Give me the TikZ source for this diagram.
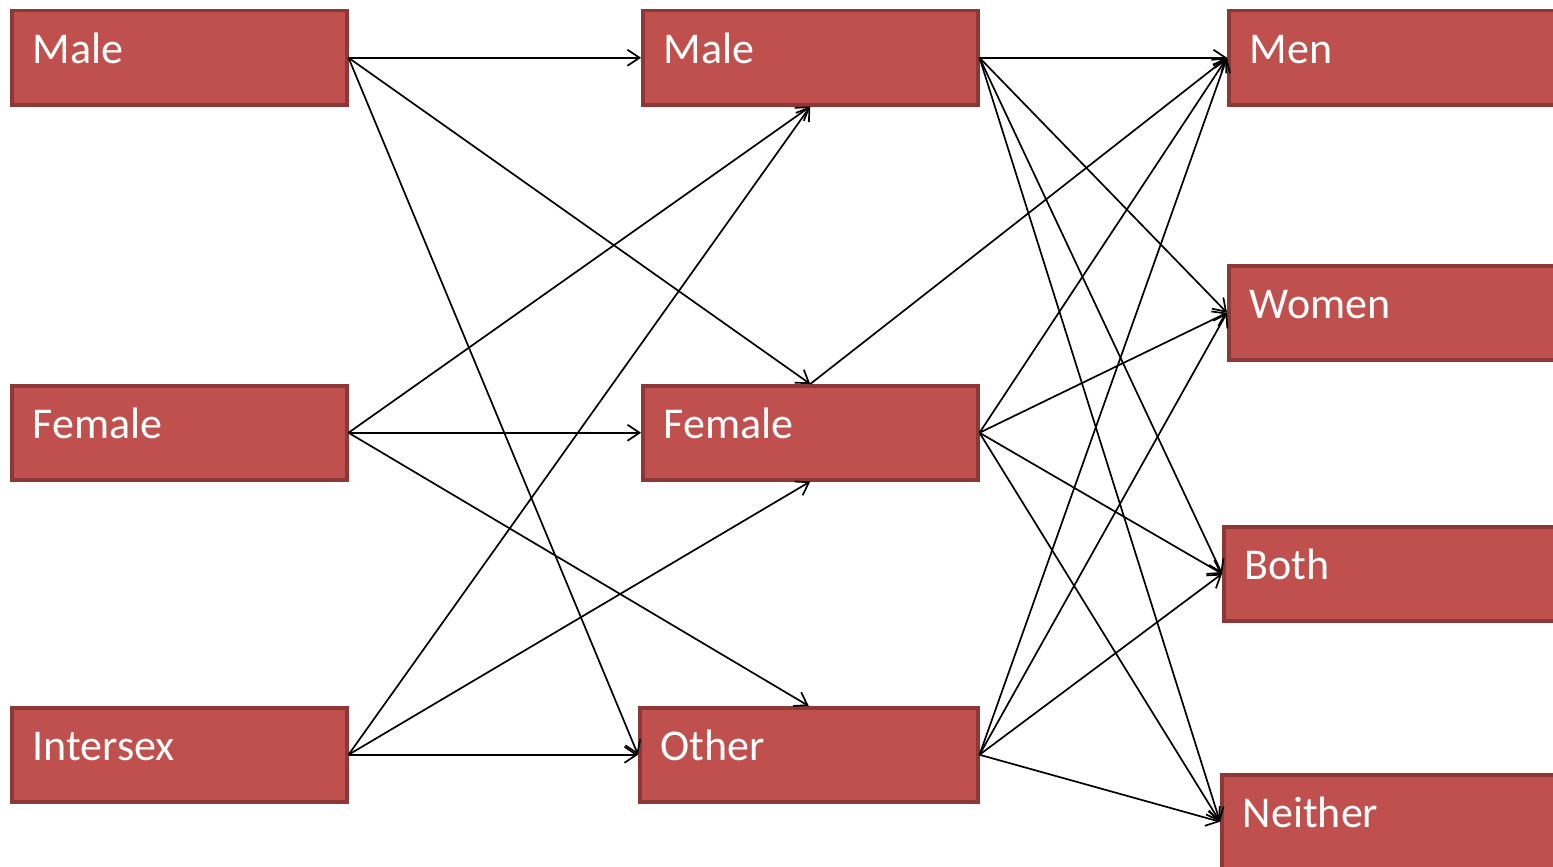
\documentclass[tikz,border=0pt]{standalone}
\usepackage{fontspec}
\setmainfont{Carlito}
\usetikzlibrary{arrows.meta}
\definecolor{boxfill}{HTML}{C0504D}
\definecolor{boxline}{HTML}{8C3836}
\tikzset{
  gbox/.style={draw=boxline, line width=3.5pt, fill=boxfill, anchor=north west,
    minimum width=#1, minimum height=94pt, inner xsep=21pt, inner ysep=0pt,
    text width=#1-42pt, align=left, text=white, font=\fontsize{44}{48}\selectfont,
    text height=31pt, text depth=19pt},
  gbox/.default=335pt,
  conn/.style={line width=1.7pt, -{Straight Barb[length=12pt,width=16pt,line width=1.7pt]}}
}
\begin{document}
\begin{tikzpicture}[x=1pt,y=-1pt]
\useasboundingbox (0,0) rectangle (1553,867);
% left column
\node[gbox] (lmale) at (10,9) {Male};
\node[gbox] (lfemale) at (10,384) {Female};
\node[gbox] (linter) at (10,706) {Intersex};
% middle column
\node[gbox] (mmale) at (641,9) {Male};
\node[gbox] (mfemale) at (641,384) {Female};
\node[gbox=338pt] (mother) at (638,706) {Other};
% right column
\node[gbox] (men) at (1227,9) {Men};
\node[gbox] (women) at (1227,264) {Women};
\node[gbox=340pt] (both) at (1222,525) {Both};
\node[gbox=345pt] (neither) at (1220,773) {Neither};
% left -> middle
\draw[conn] (lmale.east) -- (mmale.west);
\draw[conn] (lmale.east) -- (mfemale.north);
\draw[conn] (lmale.east) -- (mother.west);
\draw[conn] (lfemale.east) -- (mmale.south);
\draw[conn] (lfemale.east) -- (mfemale.west);
\draw[conn] (lfemale.east) -- (mother.north);
\draw[conn] (linter.east) -- (mmale.south);
\draw[conn] (linter.east) -- (mfemale.south);
\draw[conn] (linter.east) -- (mother.west);
% middle -> right
\foreach \s in {mmale,mfemale,mother}{
  \foreach \t in {men,women,both,neither}{
    \draw[conn] (\s.east) -- (\t.west);
  }
}
\draw[conn] (mfemale.north) -- (men.west);
\end{tikzpicture}
\end{document}
